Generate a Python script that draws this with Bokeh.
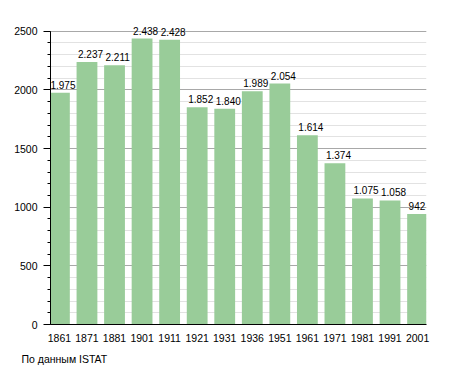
from bokeh.plotting import figure
from bokeh.models import ColumnDataSource, Title, FixedTicker, NumeralTickFormatter
from bokeh.embed import file_html
from bokeh.resources import INLINE
from bokeh.core.properties import value

years = ["1861", "1871", "1881", "1901", "1911", "1921", "1931", "1936",
         "1951", "1961", "1971", "1981", "1991", "2001"]
population = [1975, 2237, 2211, 2438, 2428, 1852, 1840, 1989, 2054,
              1614, 1374, 1075, 1058, 942]
labels = ["1.975", "2.237", "2.211", "2.438", "2.428", "1.852", "1.840",
          "1.989", "2.054", "1.614", "1.374", "1.075", "1.058", "942"]
y_ticks = [0, 500, 1000, 1500, 2000, 2500]
caption = "По данным  ISTAT"

FONT = "Liberation Sans"

src = ColumnDataSource(dict(x=years, y=population, lab=labels))

p = figure(x_range=years, y_range=(0, 2600), width=440, height=373,
           output_backend="svg", toolbar_location=None,
           min_border_left=50, min_border_right=14,
           min_border_top=19, min_border_bottom=49)
p.x_range.range_padding = -0.176
p.x_range.range_padding_units = "absolute"
p.outline_line_color = None
p.background_fill_color = "white"

p.vbar(x="x", top="y", width=0.755, source=src,
       fill_color="#99cc99", line_color=None)

p.text(x="x", y="y", text="lab", source=src,
       x_offset=-9, y_offset=-8,
       text_font=value(FONT), text_font_size="10px",
       text_align="left", text_baseline="alphabetic", text_color="black")

# y axis
p.yaxis.ticker = FixedTicker(ticks=y_ticks,
                             minor_ticks=list(range(0, 2501, 100)))
p.yaxis.bounds = (0, 2500)
p.yaxis.axis_line_color = "black"
p.yaxis.major_tick_line_color = "black"
p.yaxis.minor_tick_line_color = "black"
p.yaxis.major_tick_in = 0
p.yaxis.major_tick_out = 7
p.yaxis.minor_tick_in = 0
p.yaxis.minor_tick_out = 3
p.yaxis.major_label_text_font = FONT
p.yaxis.major_label_text_font_size = "10.5px"
p.yaxis.major_label_text_color = "black"
p.yaxis.major_label_standoff = 6
p.yaxis.formatter = NumeralTickFormatter(format="0")

# x axis
p.xaxis.axis_line_color = "black"
p.xaxis.major_tick_line_color = None
p.xaxis.minor_tick_line_color = None
p.xaxis.major_label_text_font = FONT
p.xaxis.major_label_text_font_size = "10.5px"
p.xaxis.major_label_text_color = "black"
p.xaxis.major_label_standoff = 3

# grid
p.xgrid.grid_line_color = None
p.ygrid.grid_line_color = "#a8a8a8"
p.ygrid.minor_grid_line_color = "#e2e2e2"
p.ygrid.level = "underlay"

p.add_layout(Title(text=caption, align="left", offset=-29, standoff=13,
                   text_font=FONT, text_font_size="10.5px",
                   text_font_style="normal", text_color="black"), "below")

open("out.html", "w").write(file_html(p, INLINE))
